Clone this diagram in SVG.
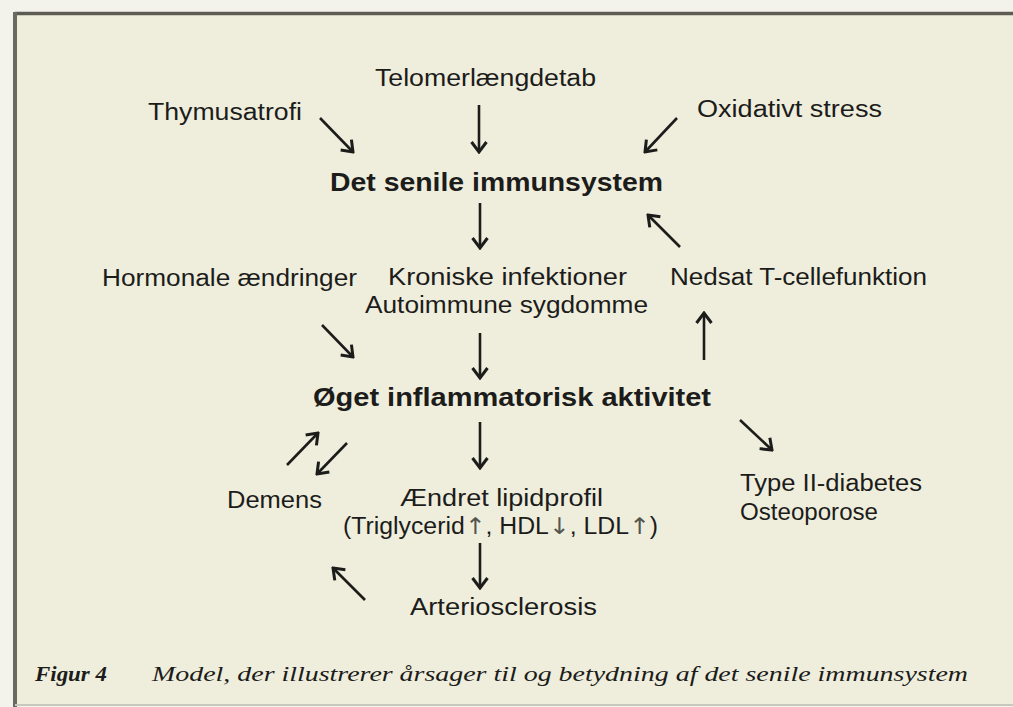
<svg xmlns="http://www.w3.org/2000/svg" width="1013" height="707" viewBox="0 0 1013 707">
<style>
.t{font-family:"Liberation Sans",Arial,sans-serif;font-size:23px;fill:#1c1c1a}
.b{font-weight:bold;font-size:25px}
.ar{font-family:"DejaVu Sans","Liberation Sans",sans-serif;fill:#55554f}
.cap{font-family:"Liberation Serif","Times New Roman",serif;font-style:italic;font-size:21px;fill:#1c1c1a}
.arr{stroke:#1c1c1a;stroke-width:2.6;fill:none;marker-end:url(#ah)}
</style>
<defs>
<marker id="ah" viewBox="-13 -10 15 20" markerWidth="15" markerHeight="20" refX="0" refY="0" orient="auto" markerUnits="userSpaceOnUse">
<path d="M-10,-7.5 L0,0 L-10,7.5" fill="none" stroke="#1c1c1a" stroke-width="3"/>
</marker>
</defs>
<rect x="0" y="0" width="1013" height="707" fill="#f3f3ec"/>
<rect x="15" y="13.5" width="998" height="691" fill="#efeedd"/>
<line x1="15" y1="13.5" x2="1013" y2="13.5" stroke="#5c5c55" stroke-width="3.5"/>
<line x1="15" y1="12" x2="15" y2="707" stroke="#6a6a62" stroke-width="4"/>
<line x1="15" y1="705" x2="1013" y2="705" stroke="#c8c8bc" stroke-width="2"/>

<g id="telomer"><text class="t" x="375" y="86" textLength="221" lengthAdjust="spacingAndGlyphs">Telomerlængdetab</text></g>
<g id="thymus"><text class="t" x="148" y="120" textLength="154" lengthAdjust="spacingAndGlyphs">Thymusatrofi</text></g>
<g id="oxidativ"><text class="t" x="697" y="117" textLength="185" lengthAdjust="spacingAndGlyphs">Oxidativt stress</text></g>
<g id="senile"><text class="t b" x="330" y="191" textLength="333" lengthAdjust="spacingAndGlyphs">Det senile immunsystem</text></g>
<g id="hormonale"><text class="t" x="102" y="286" textLength="255" lengthAdjust="spacingAndGlyphs">Hormonale ændringer</text></g>
<g id="kroniske">
<text class="t" x="388" y="285" textLength="239" lengthAdjust="spacingAndGlyphs">Kroniske infektioner</text>
<text class="t" x="365" y="313" textLength="283" lengthAdjust="spacingAndGlyphs">Autoimmune sygdomme</text>
</g>
<g id="nedsat"><text class="t" x="670" y="285" textLength="257" lengthAdjust="spacingAndGlyphs">Nedsat T-cellefunktion</text></g>
<g id="oeget"><text class="t b" x="313" y="406" textLength="398" lengthAdjust="spacingAndGlyphs">Øget inflammatorisk aktivitet</text></g>
<g id="demens"><text class="t" x="227" y="508" textLength="95" lengthAdjust="spacingAndGlyphs">Demens</text></g>
<g id="lipid">
<text class="t" x="400" y="506" textLength="203" lengthAdjust="spacingAndGlyphs">Ændret lipidprofil</text>
<text class="t" x="343" y="534" textLength="315" lengthAdjust="spacingAndGlyphs">(Triglycerid<tspan class="ar">↑</tspan>, HDL<tspan class="ar">↓</tspan>, LDL<tspan class="ar">↑</tspan>)</text>
</g>
<g id="arterio"><text class="t" x="410" y="615" textLength="187" lengthAdjust="spacingAndGlyphs">Arteriosclerosis</text></g>
<g id="diabetes">
<text class="t" x="740" y="491" textLength="182" lengthAdjust="spacingAndGlyphs">Type II-diabetes</text>
<text class="t" x="740" y="520" textLength="138" lengthAdjust="spacingAndGlyphs">Osteoporose</text>
</g>

<g id="connectors">
<line class="arr" x1="479" y1="105" x2="479" y2="152"/>
<line class="arr" x1="320" y1="118" x2="353" y2="152"/>
<line class="arr" x1="677" y1="118" x2="645" y2="152"/>
<line class="arr" x1="480" y1="203" x2="480" y2="248"/>
<line class="arr" x1="680" y1="247" x2="648" y2="215"/>
<line class="arr" x1="322" y1="325" x2="353" y2="357"/>
<line class="arr" x1="480" y1="333" x2="480" y2="378"/>
<line class="arr" x1="704" y1="360" x2="704" y2="313"/>
<line class="arr" x1="480" y1="422" x2="480" y2="468"/>
<line class="arr" x1="287" y1="465" x2="318" y2="433"/>
<line class="arr" x1="347" y1="443" x2="317" y2="474"/>
<line class="arr" x1="740" y1="420" x2="772" y2="450"/>
<line class="arr" x1="480" y1="543" x2="480" y2="588"/>
<line class="arr" x1="365" y1="600" x2="333" y2="568"/>
</g>

<g id="caption">
<text class="cap" x="35" y="681" font-weight="bold" textLength="72" lengthAdjust="spacingAndGlyphs">Figur 4</text>
<text class="cap" x="152" y="681" textLength="816" lengthAdjust="spacingAndGlyphs">Model, der illustrerer årsager til og betydning af det senile immunsystem</text>
</g>
</svg>
